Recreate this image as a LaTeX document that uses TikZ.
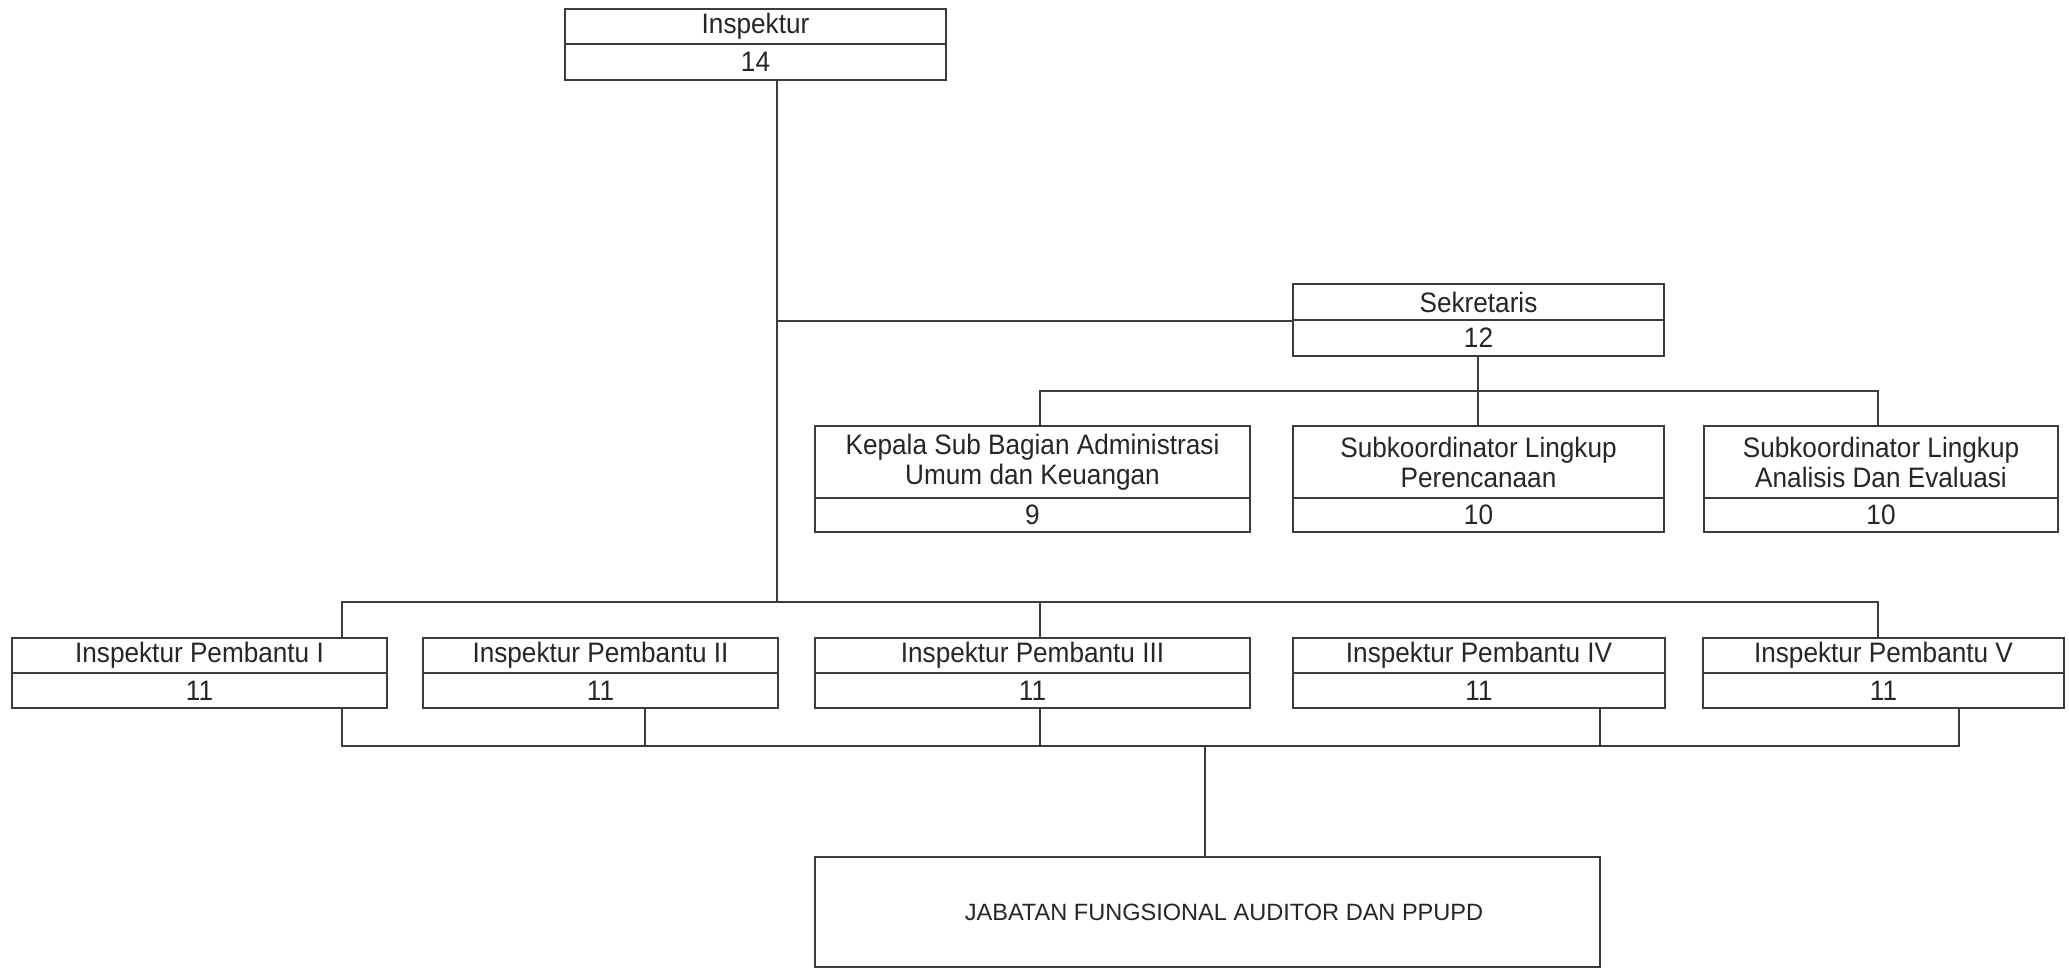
\documentclass[tikz,border=0pt]{standalone}
\usepackage{fontspec}
\setmainfont{Liberation Sans}[FakeStretch=0.93]
\newfontfamily\jabfont{Liberation Sans}
\definecolor{linecol}{HTML}{3C3C3C}
\definecolor{txtcol}{HTML}{262626}
\tikzset{
  cell/.style={draw=linecol, line width=0.6pt, inner sep=0pt, align=center,
    text=txtcol, font=\fontsize{8pt}{8.55pt}\selectfont},
  bigcell/.style={draw=linecol, line width=0.6pt, inner sep=0pt, align=center,
    text=txtcol, font=\jabfont\fontsize{6.7pt}{8pt}\selectfont},
  conn/.style={draw=linecol, line width=0.6pt}
}
% #1 name, #2 left, #3 right, #4 top, #5 divider, #6 bottom, #7 title, #8 number
\newcommand\orgbox[8]{%
  \node[cell, minimum width={(#3-#2)*0.01cm}, minimum height={(#5-#4)*0.01cm}]
    (#1t) at ({(#2+#3)/2},{(#4+#5)/2}) {#7};
  \node[cell, minimum width={(#3-#2)*0.01cm}, minimum height={(#6-#5)*0.01cm}]
    (#1b) at ({(#2+#3)/2},{(#5+#6)/2}) {#8};
}
\begin{document}
\begin{tikzpicture}[x=0.01cm, y=-0.01cm]
\useasboundingbox[fill=white] (0,0) rectangle (2069,969);

% boxes
\orgbox{ins}{565}{946}{9}{44}{80}{Inspektur}{14}
\orgbox{sek}{1293}{1664}{284}{320}{356}{Sekretaris}{12}
\orgbox{kep}{815}{1250}{426}{498}{532}{Kepala Sub Bagian Administrasi\\Umum dan Keuangan}{9}
\orgbox{per}{1293}{1664}{426}{498}{532}{Subkoordinator Lingkup\\Perencanaan}{10}
\orgbox{ana}{1704}{2058}{426}{498}{532}{Subkoordinator Lingkup\\Analisis Dan Evaluasi}{10}
\orgbox{pa}{12}{387}{638}{673}{708}{Inspektur Pembantu I}{11}
\orgbox{pb}{423}{778}{638}{673}{708}{Inspektur Pembantu II}{11}
\orgbox{pc}{815}{1250}{638}{673}{708}{Inspektur Pembantu III}{11}
\orgbox{pd}{1293}{1665}{638}{673}{708}{Inspektur Pembantu IV}{11}
\orgbox{pe}{1703}{2064}{638}{673}{708}{Inspektur Pembantu V}{11}
\node[bigcell, minimum width=7.85cm, minimum height=1.10cm] (jab) at (1207.5,912)
  {\hspace*{0.33cm}JABATAN FUNGSIONAL AUDITOR DAN PPUPD};

% bus coordinates
\coordinate (spine) at (777,602);
\coordinate (sbus) at (1478,391);
\coordinate (sk) at (1040,391);
\coordinate (sa) at (1878,391);
\coordinate (tb1) at (342,602);
\coordinate (tb3) at (1040,602);
\coordinate (tb5) at (1878,602);
\coordinate (bb1) at (342,746);
\coordinate (bb2) at (645,746);
\coordinate (bb3) at (1040,746);
\coordinate (bb4) at (1600,746);
\coordinate (bb5) at (1959,746);
\coordinate (jb) at (1205,746);

% connectors
\draw[conn] (insb.south -| spine) -- (spine);
\draw[conn] (sekt.south west -| spine) -- (sekt.south west);
\draw[conn] (sekb.south -| sbus) -- (pert.north -| sbus);
\draw[conn] (kept.north -| sk) -- (sk) -- (sa) -- (anat.north -| sa);
\draw[conn] (pat.north -| tb1) -- (tb1) -- (tb5) -- (pet.north -| tb5);
\draw[conn] (tb3) -- (pct.north -| tb3);
\draw[conn] (pab.south -| bb1) -- (bb1) -- (bb5) -- (peb.south -| bb5);
\draw[conn] (pbb.south -| bb2) -- (bb2);
\draw[conn] (pcb.south -| bb3) -- (bb3);
\draw[conn] (pdb.south -| bb4) -- (bb4);
\draw[conn] (jb) -- (jab.north -| jb);
\end{tikzpicture}
\end{document}
